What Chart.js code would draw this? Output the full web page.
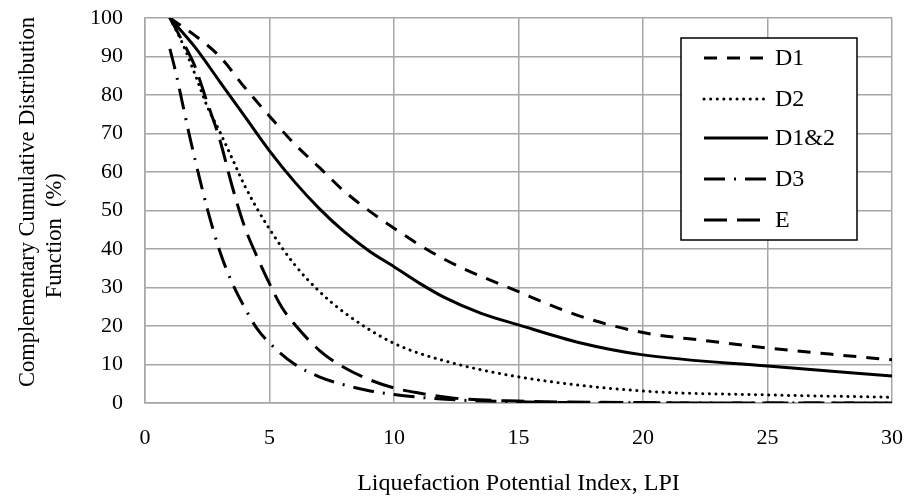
<!DOCTYPE html>
<html>
<head>
<meta charset="utf-8">
<script src="https://cdn.jsdelivr.net/npm/chart.js@4.4.1/dist/chart.umd.min.js"></script>
<style>
  html, body { margin: 0; padding: 0; background: #fff; }
  #wrap { width: 908px; height: 504px; }
</style>
</head>
<body>
<div id="wrap"><canvas id="chartCcdf" width="908" height="504"></canvas></div>
<script>
// LPI values (x) and CCDF values in % (y)
const lpiD1 = [1, 2, 3, 4, 5, 6, 7, 8, 10, 12, 15, 17.5, 20, 22.5, 25, 27.5, 30];
const ccdfD1 = [100, 95.5, 90, 82, 74.5, 67.3, 61.2, 55, 45.4, 37.4, 28.9, 22.5, 18.3, 16.2, 14.3, 12.7, 11.2];

const lpiD2 = [1, 1.5, 2, 2.5, 3, 3.5, 4, 4.5, 5, 6, 7, 8, 10, 12, 15, 20, 25, 30];
const ccdfD2 = [100, 93.5, 85.5, 77, 70.5, 63.5, 56.5, 50.5, 45.2, 36, 29, 23.5, 15.5, 11, 6.8, 3.1, 2.1, 1.5];

const lpiD12 = [1, 2, 3, 4, 5, 6, 7, 8, 9, 10, 11, 12, 13.5, 15, 17.5, 20, 25, 30];
const ccdfD12 = [100, 92.5, 83.5, 74.5, 65.5, 57.5, 50.5, 44.5, 39.5, 35.4, 31.2, 27.5, 23.3, 20.3, 15.6, 12.5, 9.6, 7.0];

const lpiD3 = [1, 1.25, 1.5, 1.75, 2, 2.5, 3, 3.5, 4, 4.5, 5, 6, 7, 8, 9, 10, 11, 12.5, 15, 20, 30];
const ccdfD3 = [92, 85.5, 78, 70.5, 63.5, 50.5, 39.5, 31.2, 24.8, 19.3, 15.6, 10.1, 6.8, 4.7, 3.2, 2.2, 1.5, 0.8, 0.3, 0.05, 0];

const lpiE = [1, 1.5, 2, 2.5, 3, 3.5, 4, 4.5, 5, 5.5, 6, 7, 8, 9, 10, 11, 12.5, 15, 20, 25, 30];
const ccdfE = [100, 94, 87.5, 78, 68.5, 56.3, 45.8, 38, 31, 24.8, 20.5, 13.7, 9.2, 6.1, 3.9, 2.6, 1.2, 0.5, 0.1, 0, 0];

const seriesNames = ['D1', 'D2', 'D1&2', 'D3', 'E'];

const FONT = '"Liberation Serif", "Times New Roman", serif';

function toPoints(xs, ys) {
  return xs.map((x, i) => ({ x: x, y: ys[i] }));
}

function lineSet(label, xs, ys, dash, cap) {
  return {
    label: label,
    data: toPoints(xs, ys),
    borderColor: '#000',
    borderWidth: 3,
    borderDash: dash,
    borderCapStyle: cap || 'butt',
    pointRadius: 0,
    pointHoverRadius: 0,
    fill: false,
    cubicInterpolationMode: 'monotone'
  };
}

const datasets = [
  lineSet(seriesNames[0], lpiD1, ccdfD1, [13, 10]),
  lineSet(seriesNames[1], lpiD2, ccdfD2, [0.1, 6.5], 'round'),
  lineSet(seriesNames[2], lpiD12, ccdfD12, []),
  lineSet(seriesNames[3], lpiD3, ccdfD3, [21, 9, 2, 9]),
  lineSet(seriesNames[4], lpiE, ccdfE, [23, 10])
];

// Legend drawn inside the plot, Excel style box
const boxLegend = {
  id: 'boxLegend',
  afterDraw(chart) {
    const ctx = chart.ctx;
    const left = 681, top = 38, width = 176, height = 202;
    ctx.save();
    ctx.fillStyle = '#fff';
    ctx.fillRect(left, top, width, height);
    ctx.strokeStyle = '#000';
    ctx.lineWidth = 1.5;
    ctx.strokeRect(left, top, width, height);

    const rows = [58, 99, 138, 179, 220];
    const ends = [768, 768, 768, 768, 760];
    chart.data.datasets.forEach((ds, i) => {
      const y = rows[i];
      ctx.beginPath();
      ctx.setLineDash(ds.borderDash);
      ctx.lineCap = ds.borderCapStyle;
      ctx.lineWidth = ds.borderWidth;
      ctx.strokeStyle = ds.borderColor;
      ctx.moveTo(704, y);
      ctx.lineTo(ends[i], y);
      ctx.stroke();
      ctx.setLineDash([]);
      ctx.fillStyle = '#000';
      ctx.font = '24px ' + FONT;
      ctx.textBaseline = 'middle';
      ctx.textAlign = 'left';
      ctx.fillText(ds.label, 775, y + 1);
    });
    ctx.restore();
  }
};

const ctx = document.getElementById('chartCcdf').getContext('2d');
new Chart(ctx, {
  type: 'line',
  data: { datasets: datasets },
  options: {
    responsive: false,
    animation: false,
    layout: { padding: { top: 18, right: 16, bottom: 0, left: 0 } },
    plugins: {
      legend: { display: false },
      tooltip: { enabled: false },
      title: { display: false }
    },
    scales: {
      x: {
        type: 'linear',
        min: 0,
        max: 30,
        afterFit: function(scale) {
          scale.height = 101;
          scale.paddingLeft = 0;
          scale.paddingRight = 0;
        },
        grid: { color: '#a6a6a6', lineWidth: 1.5, drawTicks: false },
        border: { color: '#a6a6a6', width: 1.5 },
        ticks: {
          stepSize: 5,
          padding: 22,
          color: '#000',
          font: { family: FONT, size: 22 }
        },
        title: {
          display: true,
          text: 'Liquefaction Potential Index, LPI',
          color: '#000',
          font: { family: FONT, size: 24 },
          padding: { top: 0, bottom: 6 }
        }
      },
      y: {
        min: 0,
        max: 100,
        afterFit: function(scale) {
          scale.width = 145;
          scale.paddingTop = 0;
          scale.paddingBottom = 0;
        },
        grid: { color: '#a6a6a6', lineWidth: 1.5, drawTicks: false },
        border: { color: '#a6a6a6', width: 1.5 },
        ticks: {
          stepSize: 10,
          padding: 22,
          color: '#000',
          font: { family: FONT, size: 22 }
        },
        title: {
          display: true,
          text: ['   Complementary Cumulative Distribution', 'Function  (%)         '],
          color: '#000',
          font: { family: FONT, size: 22.5 },
          padding: { top: 15, bottom: 0 }
        }
      }
    }
  },
  plugins: [boxLegend]
});
</script>
</body>
</html>
